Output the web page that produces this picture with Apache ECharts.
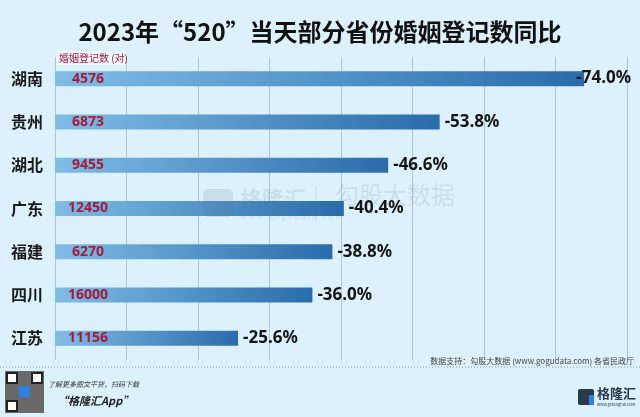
<!DOCTYPE html>
<html>
<head>
<meta charset="utf-8">
<script src="https://cdn.jsdelivr.net/npm/echarts@6/dist/echarts.min.js"></script>
<style>
html,body{margin:0;padding:0;background:#dcf1fb;}
#c{width:640px;height:417px;}
</style>
</head>
<body>
<div id="c"></div>
<script>
var provinces = ['湖南', '贵州', '湖北', '广东', '福建', '四川', '江苏'];
var yoyChange = [-74.0, -53.8, -46.6, -40.4, -38.8, -36.0, -25.6];
var marriageCounts = [4576, 6873, 9455, 12450, 6270, 16000, 11156];
var titleText = '2023年“520”当天部分省份婚姻登记数同比';
var countUnitText = '婚姻登记数 (对)';
var sourceText = '数据支持：勾股大数据 (www.gogudata.com) 各省民政厅';

var CJK = '"Noto Sans CJK SC", "Noto Sans", sans-serif';
var chart = echarts.init(document.getElementById('c'));
chart.setOption({
  backgroundColor: '#dcf1fb',
  animation: false,
  title: {
    text: titleText,
    left: 'center',
    top: 15,
    textStyle: {fontFamily: CJK, fontWeight: 'bold', fontSize: 24, color: '#111'}
  },
  grid: {left: 55, right: 13, top: 57, bottom: 57},
  xAxis: {
    type: 'value', min: -80, max: 0, interval: 10, inverse: true,
    axisLabel: {show: false}, axisLine: {show: false}, axisTick: {show: false},
    splitLine: {show: true, lineStyle: {color: '#b0c5d4', width: 1}}
  },
  yAxis: {
    type: 'category', data: provinces, inverse: true,
    axisLine: {show: false}, axisTick: {show: false},
    axisLabel: {margin: 12, fontFamily: CJK, fontWeight: 'bold', fontSize: 16, color: '#1a1a1a'}
  },
  series: [
    {
      type: 'bar', data: yoyChange, barWidth: 15, z: 2,
      itemStyle: {
        color: new echarts.graphic.LinearGradient(0, 0, 1, 0, [
          {offset: 0, color: '#80bce6'},
          {offset: 1, color: '#2a6cab'}
        ])
      },
      label: {
        show: true, position: 'right', distance: 5,
        formatter: function (p) { return p.value.toFixed(1) + '%'; },
        fontFamily: '"Noto Sans", sans-serif', fontWeight: 'bold', fontSize: 17, color: '#151515'
      },
      labelLayout: function (params) {
        var r = params.labelRect;
        if (r.x + r.width > 631) {
          return {x: 631 - r.width, y: r.y, align: 'left', verticalAlign: 'top'};
        }
        return {};
      }
    },
    {
      type: 'bar', data: yoyChange, barWidth: 15, barGap: '-100%', z: 3,
      itemStyle: {color: 'rgba(0,0,0,0)'},
      label: {
        show: true, position: [33, '50%'], align: 'center', verticalAlign: 'middle',
        formatter: function (p) { return String(marriageCounts[p.dataIndex]); },
        fontFamily: '"Noto Sans", sans-serif', fontWeight: 'bold', fontSize: 14, color: '#a31d3b'
      }
    }
  ],
  graphic: [
    {type: 'rect', left: 56, top: 51, shape: {width: 70, height: 14}, style: {fill: '#ecf7fd'}, z: 5},
    {type: 'text', left: 59, top: 53, style: {text: countUnitText, font: '10px ' + CJK, fill: '#a31d3b'}, z: 6},
    {type: 'text', right: 6, top: 357, style: {text: sourceText, font: '8px ' + CJK, fill: '#444'}, z: 5},
    {type: 'line', shape: {x1: 0, y1: 367, x2: 640, y2: 367}, style: {stroke: '#8a9aa4', lineWidth: 1, lineDash: [1, 2]}, z: 5},
    // QR code approximation
    {type: 'rect', shape: {x: 5, y: 371, width: 39, height: 42}, style: {fill: '#6a6a6a'}, z: 5},
    {type: 'rect', shape: {x: 7, y: 373, width: 10, height: 10}, style: {fill: '#fff', stroke: '#222', lineWidth: 2}, z: 6},
    {type: 'rect', shape: {x: 32, y: 373, width: 10, height: 10}, style: {fill: '#fff', stroke: '#222', lineWidth: 2}, z: 6},
    {type: 'rect', shape: {x: 7, y: 401, width: 10, height: 10}, style: {fill: '#fff', stroke: '#222', lineWidth: 2}, z: 6},
    {type: 'rect', shape: {x: 19, y: 386, width: 11, height: 11}, style: {fill: '#2f7fe0'}, z: 6},
    {type: 'text', left: 48, top: 381, style: {text: '了解更多图文干货，扫码下载', font: 'italic 7px ' + CJK, fill: '#333'}, z: 5},
    {type: 'text', left: 57, top: 395, style: {text: '“格隆汇App”', font: 'italic bold 11px ' + CJK, fill: '#222'}, z: 5},
    // logo
    {type: 'rect', shape: {x: 578, y: 389, width: 16, height: 16, r: 2}, style: {fill: '#2b3a4a'}, z: 5},
    {type: 'rect', shape: {x: 589, y: 395, width: 5, height: 10}, style: {fill: '#2f7fe0'}, z: 6},
    {type: 'text', left: 597, top: 387, style: {text: '格隆汇', font: 'bold 13px ' + CJK, fill: '#2b3a4a'}, z: 5},
    {type: 'text', left: 597, top: 402, style: {text: 'www.gelonghui.com', font: '4px ' + CJK, fill: '#2b3a4a'}, z: 5},
    // watermark
    {type: 'rect', shape: {x: 203, y: 189, width: 30, height: 28, r: 5}, style: {fill: 'rgba(90,110,130,0.13)'}, z: 10},
    {type: 'text', left: 240, top: 188, style: {text: '格隆汇', font: 'bold 22px ' + CJK, fill: 'rgba(90,110,130,0.13)'}, z: 10},
    {type: 'line', shape: {x1: 316, y1: 185, x2: 316, y2: 222}, style: {stroke: 'rgba(90,110,130,0.15)', lineWidth: 1}, z: 10},
    {type: 'text', left: 335, top: 183, style: {text: '勾股大数据', font: '24px ' + CJK, fill: 'rgba(90,110,130,0.13)'}, z: 10},
    {type: 'text', left: 240, top: 212, style: {text: 'w w w . g o g u d a t a . c o m', font: '8px ' + CJK, fill: 'rgba(90,110,130,0.15)'}, z: 10}
  ]
});
</script>
</body>
</html>
